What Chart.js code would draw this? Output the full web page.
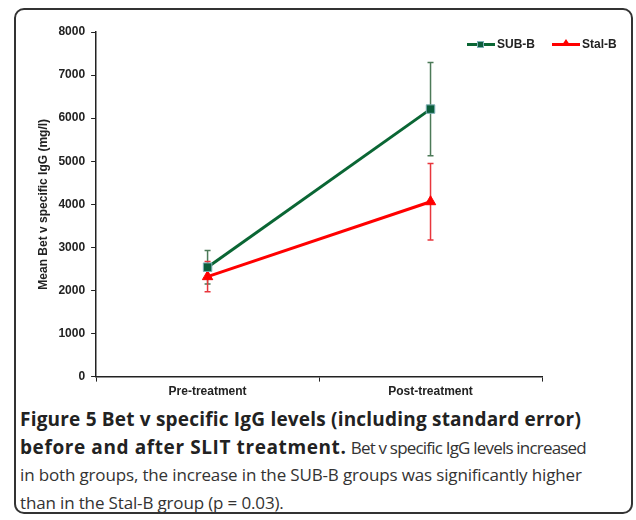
<!DOCTYPE html>
<html>
<head>
<meta charset="utf-8">
<script src="https://cdn.jsdelivr.net/npm/chart.js@4"></script>
<style>
  body { margin: 0; background: #fff; width: 636px; height: 520px; overflow: hidden; }
  .frame {
    position: absolute; left: 14px; top: 8px; width: 619px; height: 506px;
    border: 2px solid #333; border-radius: 10px; box-sizing: border-box;
  }
  .chartBox { position: absolute; left: 0; top: 0; width: 636px; height: 402px; }
  .legend { position: absolute; top: 37px; left: 467px; font: bold 12px "Liberation Sans", Arial, sans-serif; color: #222; }
  .legend span.item { position: absolute; white-space: nowrap; }
  .legend .ln { position: absolute; top: 6px; width: 28px; height: 3px; }
  .legend .mk { position: absolute; }
  .caption {
    position: absolute; left: 20px; top: 406px; width: 612px;
    font-family: "Open Sans", sans-serif; font-size: 17px; line-height: 27.7px; color: #333;
    letter-spacing: -0.15px; white-space: nowrap;
  }
  .caption b { color: #222; font-size: 19px; letter-spacing: 0.2px; }
  .caption b.wide { letter-spacing: 0.6px; }
  .caption span.tight { letter-spacing: -0.8px; }
</style>
</head>
<body>
<div class="frame"></div>
<div class="chartBox"><canvas id="igg"></canvas></div>
<div class="legend">
  <span class="item" style="left:0">
    <span class="ln" style="left:0;background:#0a6634"></span>
    <span class="mk" style="left:10px;top:4px;width:7px;height:7px;background:#0b5e3b;border:1px solid #7fb0b8;box-sizing:border-box"></span>
    <span style="position:absolute;left:30px">SUB-B</span>
  </span>
  <span class="item" style="left:85px">
    <span class="ln" style="left:0;background:#ff0000"></span>
    <span class="mk" style="left:10px;top:2px;width:0;height:0;border-left:4px solid transparent;border-right:4px solid transparent;border-bottom:6px solid #ff0000"></span>
    <span style="position:absolute;left:30px">Stal-B</span>
  </span>
</div>
<div class="caption">
  <b>Figure 5 Bet v specific IgG levels (including standard error)</b><br>
  <b class="wide">before and after SLIT treatment.</b> <span class="tight">Bet v specific IgG levels increased</span><br>
  in both groups, the increase in the SUB-B groups was significantly higher<br>
  than in the Stal-B group (p = 0.03).
</div>
<script>
// DATA
const categories = ["Pre-treatment", "Post-treatment"];
const subB = [2540, 6210];
const subBErr = [390, 1080];
const stalB = [2320, 4060];
const stalBErr = [350, 890];
const yTicks = [0, 1000, 2000, 3000, 4000, 5000, 6000, 7000, 8000];

const tickFont = { family: "'Liberation Sans', Arial, sans-serif", weight: "bold", size: 12 };

// draws the standard error bars through the y scale
const errorBars = {
    id: "errorBars",
    beforeDatasetsDraw(chart) {
        const { ctx, scales } = chart;
        chart.data.datasets.forEach((ds, i) => {
            const meta = chart.getDatasetMeta(i);
            ctx.save();
            ctx.strokeStyle = ds.errColor;
            ctx.lineWidth = 1.5;
            meta.data.forEach((pt, j) => {
                const top = scales.y.getPixelForValue(ds.data[j] + ds.errors[j]);
                const bot = scales.y.getPixelForValue(ds.data[j] - ds.errors[j]);
                ctx.beginPath();
                ctx.moveTo(pt.x, top); ctx.lineTo(pt.x, bot);
                ctx.moveTo(pt.x - 3, top); ctx.lineTo(pt.x + 3, top);
                ctx.moveTo(pt.x - 3, bot); ctx.lineTo(pt.x + 3, bot);
                ctx.stroke();
            });
            ctx.restore();
        });
    }
};

new Chart(document.getElementById("igg"), {
    type: "line",
    data: {
        labels: categories,
        datasets: [
            {
                label: "SUB-B", data: subB, errors: subBErr, errColor: "#4c7a58",
                borderColor: "#0a6634", borderWidth: 3,
                pointStyle: "rect", pointRadius: 6, pointBackgroundColor: "#0b5e3b",
                pointBorderColor: "#7fb0b8", pointBorderWidth: 1
            },
            {
                label: "Stal-B", data: stalB, errors: stalBErr, errColor: "#e8363c",
                borderColor: "#ff0000", borderWidth: 3,
                pointStyle: "triangle", pointRadius: 6, pointBackgroundColor: "#ff0000",
                pointBorderColor: "#ff0000", pointBorderWidth: 1
            }
        ]
    },
    options: {
        responsive: true,
        maintainAspectRatio: false,
        animation: false,
        layout: { padding: { left: 34, right: 94, top: 32, bottom: 0 } },
        plugins: { legend: { display: false }, tooltip: { enabled: false } },
        scales: {
            x: {
                offset: true,
                border: { display: true, color: "#222", width: 1.5 },
                grid: { display: true, drawOnChartArea: false, drawTicks: true, tickLength: 5, color: "#222", offset: true },
                ticks: { color: "#222", font: tickFont, padding: 3 }
            },
            y: {
                min: 0, max: 8000,
                afterBuildTicks: axis => { axis.ticks = yTicks.map(v => ({ value: v })); },
                border: { display: true, color: "#222", width: 1.5 },
                grid: { display: true, drawOnChartArea: false, drawTicks: true, tickLength: 5, color: "#222" },
                ticks: { color: "#222", font: tickFont, padding: 6, callback: v => String(v) },
                title: {
                    display: true, text: "Mean Bet v specific IgG (mg/l)", color: "#222",
                    font: { family: "'Liberation Sans', Arial, sans-serif", weight: "bold", size: 12 }, padding: 2
                }
            }
        }
    },
    plugins: [errorBars]
});
</script>
</body>
</html>
